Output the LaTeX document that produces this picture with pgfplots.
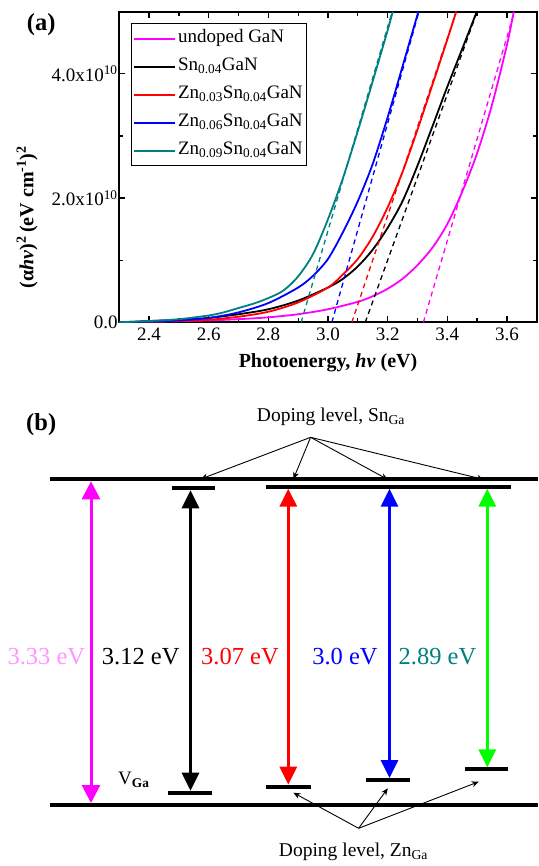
\documentclass[border=0pt]{standalone}
\usepackage{fontspec}
\setmainfont{Liberation Serif}
\usepackage{pgfplots}
\pgfplotsset{compat=1.18}
\usetikzlibrary{arrows.meta}
\definecolor{tealc}{RGB}{0,128,128}
\definecolor{pinklab}{RGB}{255,150,255}
\definecolor{limec}{RGB}{0,255,0}
\definecolor{magc}{RGB}{255,0,255}
\newcommand{\fsA}{\fontsize{19pt}{22pt}\selectfont}
\newcommand{\fsL}{\fontsize{20pt}{24pt}\selectfont}
\newcommand{\fsB}{\fontsize{24.5pt}{28pt}\selectfont}
\begin{document}
\begin{tikzpicture}
\path[use as bounding box] (0pt,0pt) rectangle (538pt,-866pt);
% ---------------- panel (a)
\begin{axis}[
 at={(119.3pt,-322.3pt)}, anchor=south west,
 scale only axis, width=417.4pt, height=310.6pt,
 xmin=2.3, xmax=3.7, ymin=0, ymax=5,
 xtick={2.4,2.6,2.8,3.0,3.2,3.4,3.6},
 xticklabels={2.4,2.6,2.8,3.0,3.2,3.4,3.6},
 minor xtick={2.3,2.5,2.7,2.9,3.1,3.3,3.5,3.7},
 ytick={0,2,4},
 yticklabels={0.0,2.0x10\textsuperscript{10},4.0x10\textsuperscript{10}},
 minor ytick={1,3},
 /pgf/number format/assume math mode=true,
 tick align=inside,
 major tick length=6pt, minor tick length=4pt,
 every tick/.style={black, line width=1.3pt},
 axis line style={line width=2pt},
 tick label style={font=\fsA},
 yticklabel style={inner xsep=1.5pt},
 xticklabel style={inner ysep=5pt},
 xlabel={\textbf{Photoenergy, \textit{hν} (eV)}},
 xlabel style={font=\fsL, at={(axis description cs:0.5,-0.129)}, anchor=center},
 ylabel={\textbf{(α\textit{hν})\textsuperscript{2}\,(eV cm\textsuperscript{-1})\textsuperscript{2}}},
 ylabel style={font=\fsL, at={(axis description cs:-0.221,0.339)}, anchor=center},
 legend cell align=left,
 legend style={at={(0.0273,0.9627)}, anchor=north west, draw=black, line width=0.8pt,
   font=\fsA, inner xsep=2pt, inner ysep=1pt, row sep=0pt,
   nodes={inner xsep=2pt, inner ysep=2.5pt, text height=15pt, text depth=8pt}},
 legend image code/.code={\draw[#1, line width=2pt] (0pt,0pt) -- (41pt,0pt);},
 clip=true,
]
\addplot[magc, line width=1.8pt, smooth] coordinates {
(2.30,0.00) (2.40,0.01) (2.50,0.02) (2.60,0.03) (2.70,0.05) (2.80,0.08) (2.90,0.13)
(3.00,0.21) (3.10,0.33) (3.15,0.42) (3.20,0.54) (3.25,0.70) (3.30,0.92) (3.35,1.20)
(3.40,1.58) (3.45,2.10) (3.50,2.72) (3.55,3.50) (3.60,4.46) (3.623,5.00)};
\addlegendentry{undoped GaN}
\addplot[black, line width=1.8pt, smooth] coordinates {
(2.30,0.00) (2.40,0.02) (2.50,0.04) (2.60,0.07) (2.70,0.13) (2.80,0.21) (2.90,0.35)
(3.00,0.56) (3.05,0.70) (3.10,0.90) (3.15,1.17) (3.20,1.52) (3.25,1.95) (3.30,2.52)
(3.35,3.15) (3.40,3.79) (3.45,4.40) (3.499,5.00)};
\addlegendentry{Sn\textsubscript{0.04}GaN}
\addplot[red, line width=1.8pt, smooth] coordinates {
(2.30,0.00) (2.40,0.01) (2.50,0.02) (2.60,0.04) (2.70,0.09) (2.80,0.17) (2.90,0.32)
(3.00,0.56) (3.05,0.77) (3.10,1.02) (3.15,1.38) (3.20,1.85) (3.25,2.42) (3.30,3.10)
(3.35,3.82) (3.40,4.55) (3.43,5.00)};
\addlegendentry{Zn\textsubscript{0.03}Sn\textsubscript{0.04}GaN}
\addplot[blue, line width=1.8pt, smooth] coordinates {
(2.30,0.00) (2.40,0.01) (2.50,0.03) (2.60,0.07) (2.70,0.16) (2.80,0.31) (2.90,0.56)
(2.95,0.75) (3.00,1.02) (3.05,1.45) (3.10,1.95) (3.15,2.55) (3.20,3.30) (3.25,4.12)
(3.303,5.00)};
\addlegendentry{Zn\textsubscript{0.06}Sn\textsubscript{0.04}GaN}
\addplot[tealc, line width=1.8pt, smooth] coordinates {
(2.30,0.00) (2.40,0.02) (2.50,0.05) (2.60,0.11) (2.65,0.16) (2.70,0.23) (2.75,0.30)
(2.80,0.39) (2.85,0.51) (2.90,0.74) (2.95,1.10) (3.00,1.66) (3.05,2.32) (3.10,3.08)
(3.15,3.88) (3.20,4.70) (3.217,5.00)};
\addlegendentry{Zn\textsubscript{0.09}Sn\textsubscript{0.04}GaN}
% linear fits
\addplot[magc, line width=1.3pt, dash pattern=on 5pt off 4pt, forget plot] coordinates {(3.32,0) (3.625,5)};
\addplot[black, line width=1.3pt, dash pattern=on 5pt off 4pt, forget plot] coordinates {(3.125,0) (3.50,5)};
\addplot[red, line width=1.3pt, dash pattern=on 5pt off 4pt, forget plot] coordinates {(3.08,0) (3.43,5)};
\addplot[blue, line width=1.3pt, dash pattern=on 5pt off 4pt, forget plot] coordinates {(3.013,0) (3.305,5)};
\addplot[tealc, line width=1.3pt, dash pattern=on 5pt off 4pt, forget plot] coordinates {(2.91,0) (3.215,5)};
\end{axis}
\node[font=\fsB\bfseries] at (41.2pt,-25pt) {(a)};
% ---------------- panel (b)
\begin{axis}[
 at={(0pt,-866pt)}, anchor=south west,
 scale only axis, width=538pt, height=486pt,
 xmin=0, xmax=538, ymin=380, ymax=866, y dir=reverse,
 axis lines=none, clip=false,
]
% band edges
\addplot[black, line width=4pt] coordinates {(49.8,479.3) (538,479.3)};
\addplot[black, line width=4pt] coordinates {(49.8,805) (538,805)};
% Sn levels
\addplot[black, line width=4pt] coordinates {(171.6,488.3) (214.5,488.3)};
\addplot[black, line width=4pt] coordinates {(266,486.7) (511.3,486.7)};
% lower levels
\addplot[black, line width=4pt] coordinates {(168.2,792.7) (211.7,792.7)};
\addplot[black, line width=4pt] coordinates {(266,786.7) (310.6,786.7)};
\addplot[black, line width=4pt] coordinates {(365.5,780) (410,780)};
\addplot[black, line width=4pt] coordinates {(465,769.3) (508,769.3)};
% transitions
\addplot[magc, line width=3pt, {Triangle[width=18pt,length=18pt]}-{Triangle[width=18pt,length=18pt]}] coordinates {(91,481.3) (91,803)};
\addplot[black, line width=3pt, {Triangle[width=17pt,length=18pt]}-{Triangle[width=17pt,length=18pt]}] coordinates {(190.5,490.3) (190.5,790.7)};
\addplot[red, line width=3pt, {Triangle[width=17pt,length=18pt]}-{Triangle[width=17pt,length=18pt]}] coordinates {(288.3,488.7) (288.3,784.7)};
\addplot[blue, line width=3pt, {Triangle[width=17pt,length=18pt]}-{Triangle[width=17pt,length=18pt]}] coordinates {(389.5,488.7) (389.5,778)};
\addplot[limec, line width=3pt, {Triangle[width=17pt,length=18pt]}-{Triangle[width=17pt,length=18pt]}] coordinates {(487.3,488.7) (487.3,767.3)};
% annotation arrows Sn
\addplot[black, line width=0.9pt, -{Stealth[length=7pt,width=6pt]}] coordinates {(310.6,437.3) (200.8,479)};
\addplot[black, line width=0.9pt, -{Stealth[length=7pt,width=6pt]}] coordinates {(310.6,437.3) (293.4,479)};
\addplot[black, line width=0.9pt, -{Stealth[length=7pt,width=6pt]}] coordinates {(310.6,437.3) (387.8,479.5)};
\addplot[black, line width=0.9pt, -{Stealth[length=7pt,width=6pt]}] coordinates {(310.6,437.3) (483.9,479.5)};
% annotation arrows Zn
\addplot[black, line width=0.9pt, -{Stealth[length=7pt,width=6pt]}] coordinates {(358.6,828.3) (293.4,792.7)};
\addplot[black, line width=0.9pt, -{Stealth[length=7pt,width=6pt]}] coordinates {(358.6,828.3) (387.8,788.3)};
\addplot[black, line width=0.9pt, -{Stealth[length=7pt,width=6pt]}] coordinates {(358.6,828.3) (478.7,781.7)};
% labels
\node[font=\fsB\bfseries] at (axis cs:41.2,425) {(b)};
\node[font=\fontsize{19.5pt}{22pt}\selectfont] at (axis cs:331,416.7) {Doping level, Sn\textsubscript{Ga}};
\node[font=\fontsize{19.5pt}{22pt}\selectfont] at (axis cs:353.5,852) {Doping level, Zn\textsubscript{Ga}};
\node[font=\fsA] at (axis cs:133.8,780) {V\textsubscript{\textbf{Ga}}};
\node[font=\fsB, text=pinklab] at (axis cs:46.3,656.7) {3.33 eV};
\node[font=\fsB, text=black] at (axis cs:140.7,656.7) {3.12 eV};
\node[font=\fsB, text=red] at (axis cs:240,656.7) {3.07 eV};
\node[font=\fsB, text=blue] at (axis cs:345,656.7) {3.0 eV};
\node[font=\fsB, text=tealc] at (axis cs:437.5,656.7) {2.89 eV};
\end{axis}
\end{tikzpicture}
\end{document}
